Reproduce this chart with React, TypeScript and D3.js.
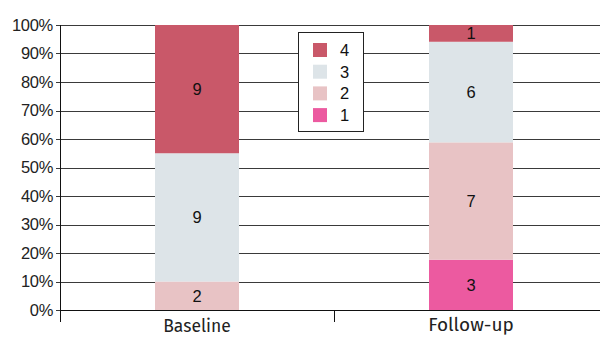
import React from "react";
import * as d3 from "d3";

const categories = ["Baseline", "Follow-up"];
const seriesKeys = ["1", "2", "3", "4"];
const seriesColors = ["#ec5aa0", "#e8c3c5", "#dde4e8", "#c95869"];
const values: number[][] = [
  [0, 2, 9, 9],
  [3, 7, 6, 1],
];
const yTicks = [0, 0.1, 0.2, 0.3, 0.4, 0.5, 0.6, 0.7, 0.8, 0.9, 1];

const W = 600;
const H = 342;
const left = 60;
const right = 608;
const top = 25;
const bottom = 310;

export default function App() {
  const x = d3.scaleBand<string>().domain(categories).range([left, right]).paddingInner(0).paddingOuter(0);
  const y = d3.scaleLinear().domain([0, 1]).range([bottom, top]);
  const barW = 84;
  const stackData = categories.map((c, i) => {
    const row: any = { cat: c };
    const total = d3.sum(values[i]);
    seriesKeys.forEach((k, j) => (row[k] = values[i][j] / total));
    return row;
  });
  const stacked = d3.stack().keys(seriesKeys)(stackData);
  const labelFont = "'Liberation Sans', Arial, sans-serif";
  const catFont = "'Fira Sans', 'Open Sans', 'Noto Sans', sans-serif";

  return (
    <svg width={W} height={H} style={{ position: "absolute", left: 0, top: 0 }}>
      <rect width={W} height={H} fill="#fff" />
      {yTicks.map((t) => (
        <g key={t}>
          <line x1={left - 4} x2={W} y1={Math.round(y(t)) + 0.5} y2={Math.round(y(t)) + 0.5} stroke="#3a3a3a" strokeWidth={1} />
          <text x={53} y={y(t)} dy="0.36em" textAnchor="end" fontFamily={labelFont} fontSize={16.5} letterSpacing={-0.3} fill="#222">
            {`${Math.round(t * 100)}%`}
          </text>
        </g>
      ))}
      {stacked.map((s, j) =>
        s.map((d, i) => {
          const h = y(d[0]) - y(d[1]);
          const cx = (x(categories[i]) as number) + x.bandwidth() / 2;
          if (h <= 0) return null;
          return (
            <g key={`${j}-${i}`}>
              <rect x={cx - barW / 2} y={y(d[1])} width={barW} height={h} fill={seriesColors[j]} />
              <text x={cx} y={(y(d[0]) + y(d[1])) / 2} dy="0.36em" textAnchor="middle" fontFamily={labelFont} fontSize={16.5} fill="#111">
                {values[i][j]}
              </text>
            </g>
          );
        })
      )}
      <line x1={left + 0.5} x2={left + 0.5} y1={top} y2={322} stroke="#111" />
      <line x1={left} x2={W} y1={bottom + 0.5} y2={bottom + 0.5} stroke="#111" />
      {categories.map((c, i) => {
        const x0 = x(c) as number;
        return (
          <g key={c}>
            {i > 0 && <line x1={x0 + 0.5} x2={x0 + 0.5} y1={bottom} y2={322} stroke="#111" />}
            <text x={x0 + x.bandwidth() / 2} y={i === 0 ? 332 : 331} textAnchor="middle" fontFamily={catFont} fontSize={i === 0 ? 17.5 : 19} fill="#222">
              {c}
            </text>
          </g>
        );
      })}
      <g>
        <rect x={298.5} y={32.5} width={65} height={99} fill="#fff" stroke="#222" />
        {seriesKeys
          .slice()
          .reverse()
          .map((k, r) => {
            const j = seriesKeys.length - 1 - r;
            const cy = 50 + r * 21.7;
            return (
              <g key={k}>
                <rect x={313} y={cy - 7} width={14} height={14} fill={seriesColors[j]} />
                <text x={340} y={cy} dy="0.36em" fontFamily={labelFont} fontSize={16.5} fill="#111">
                  {k}
                </text>
              </g>
            );
          })}
      </g>
    </svg>
  );
}
